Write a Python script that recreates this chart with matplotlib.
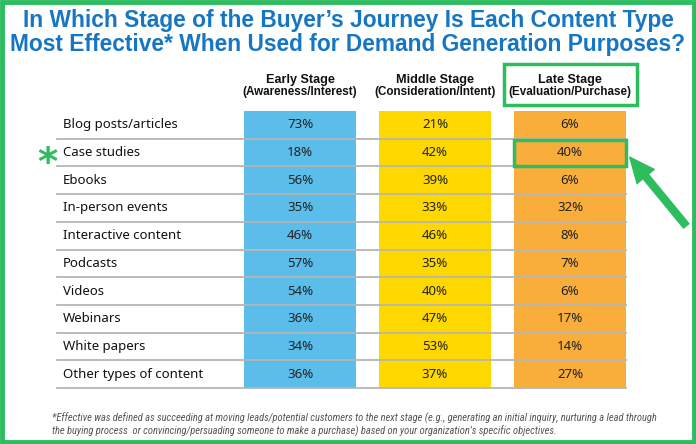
import matplotlib.pyplot as plt
from matplotlib import font_manager
from matplotlib.patches import Rectangle, FancyArrowPatch

content_types = ['Blog posts/articles', 'Case studies', 'Ebooks', 'In-person events',
                 'Interactive content', 'Podcasts', 'Videos', 'Webinars',
                 'White papers', 'Other types of content']
early = [73, 18, 56, 35, 46, 57, 54, 36, 34, 36]
middle = [21, 42, 39, 33, 46, 35, 40, 47, 53, 37]
late = [6, 40, 6, 32, 8, 7, 6, 17, 14, 27]
stage_names = ['Early Stage', 'Middle Stage', 'Late Stage']
stage_subs = ['(Awareness/Interest)', '(Consideration/Intent)', '(Evaluation/Purchase)']
title_lines = ['In Which Stage of the Buyer\u2019s Journey Is Each Content Type',
               'Most Effective* When Used for Demand Generation Purposes?']
footnote = ['*Effective was defined as succeeding at moving leads/potential customers to the next stage '
            '(e.g., generating an initial inquiry, nurturing a lead through',
            'the buying process  or convincing/persuading someone to make a purchase) based on your '
            'organization\u2019s specific objectives.']
highlight_row = 1

GREEN = '#2dbd5e'
BLUE_TITLE = '#1676c4'
col_colors = ['#5bbdea', '#ffd800', '#f9ae3c']
col_left = [244, 379, 514]
col_w = 112
top = 111
row_h = 27.7


def pick_condensed():
    names = set(f.name for f in font_manager.fontManager.ttflist)
    for cand in ['Noto Sans Condensed', 'DejaVu Sans Condensed', 'Roboto Condensed',
                 'Open Sans Condensed', 'Liberation Sans Narrow']:
        if cand in names:
            return cand
    for n in sorted(names):
        if 'Condensed' in n or 'Narrow' in n:
            return n
    return 'DejaVu Sans'


cond_font = [pick_condensed(), 'DejaVu Sans']
head_font = ['Liberation Sans', 'DejaVu Sans']

fig = plt.figure(figsize=(6.96, 4.44), dpi=100)
ax = fig.add_axes([0, 0, 1, 1])
ax.set_xlim(0, 696)
ax.set_ylim(444, 0)
ax.axis('off')
renderer = fig.canvas.get_renderer()


def fit_text(t, target_w):
    # scale a text's font size so it spans about target_w pixels
    for _ in range(3):
        w = t.get_window_extent(renderer).width
        t.set_fontsize(t.get_fontsize() * target_w / w)
    return t.get_fontsize()


t1 = ax.text(348, 27.5, title_lines[0], ha='center', va='baseline', fontsize=16,
             fontweight='bold', color=BLUE_TITLE, family=head_font)
t2 = ax.text(348, 50.5, title_lines[1], ha='center', va='baseline', fontsize=16,
             fontweight='bold', color=BLUE_TITLE, family=head_font)
t1.set_fontsize(fit_text(t2, 672))

ys = [top + row_h * (i + 0.5) for i in range(len(content_types))]
heads, subs = [], []
for ci, vals in enumerate([early, middle, late]):
    ax.barh(ys, [col_w] * len(vals), left=col_left[ci], height=row_h,
            color=col_colors[ci], zorder=1)
    cx = col_left[ci] + col_w / 2
    for y, v in zip(ys, vals):
        ax.text(cx, y, '{}%'.format(v), ha='center', va='center',
                fontsize=9.5, color='#222222', family='Noto Sans', zorder=3)
    heads.append(ax.text(cx, 83, stage_names[ci], ha='center', va='baseline', fontsize=9,
                         fontweight='bold', color='#111111', family=head_font))
    subs.append(ax.text(cx, 95.5, stage_subs[ci], ha='center', va='baseline', fontsize=7,
                        fontweight='bold', color='#111111', family=head_font))
hs = fit_text(heads[1], 78)
ss = fit_text(subs[1], 121)
for h, s in zip(heads, subs):
    h.set_fontsize(hs)
    s.set_fontsize(ss)

for i, name in enumerate(content_types):
    ax.text(63, ys[i], name, ha='left', va='center', fontsize=9.5,
            color='#111111', family='Noto Sans')
    ax.plot([57, col_left[2] + col_w], [top + row_h * (i + 1)] * 2,
            color='#b5b5b5', lw=1.3, zorder=2)

# green highlights
ax.add_patch(Rectangle((504, 64), 133, 41, fill=False, ec=GREEN, lw=2.5, zorder=4))
hy = top + row_h * highlight_row
ax.add_patch(Rectangle((col_left[2], hy + 1), col_w, row_h - 1, fill=False,
                       ec=GREEN, lw=2.5, zorder=4))
ax.text(47, ys[highlight_row] + 11, '*', ha='center', va='center', fontsize=28,
        fontweight='bold', color=GREEN)
ax.add_patch(FancyArrowPatch((688, 228), (628, 155),
                             arrowstyle='simple,head_length=18,head_width=16,tail_width=5',
                             mutation_scale=1, color=GREEN, zorder=5))

f1 = ax.text(52, 421, footnote[0], ha='left', va='baseline', fontsize=7, style='italic',
             color='#555555', family=cond_font)
f2 = ax.text(52, 434, footnote[1], ha='left', va='baseline', fontsize=7, style='italic',
             color='#555555', family=cond_font)
f2.set_fontsize(fit_text(f1, 603))

# outer green frame
ax.add_patch(Rectangle((2, 2), 692, 440, fill=False, ec=GREEN, lw=3.5, zorder=6))

fig.savefig('out.png', dpi=100)
